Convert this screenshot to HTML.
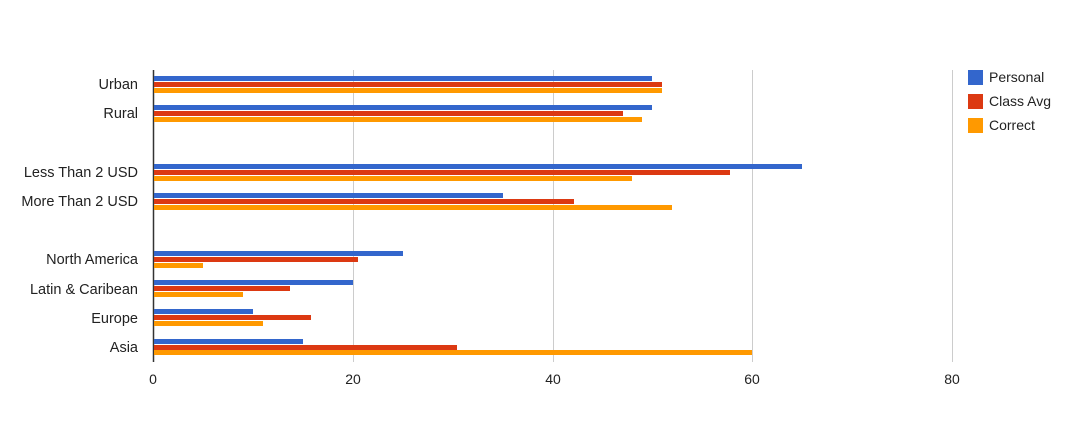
<!DOCTYPE html>
<html><head><meta charset="utf-8"><style>body{margin:0;background:#fff}svg{display:block}text{font-family:"Liberation Sans",Arial,sans-serif;font-size:14px;fill:#222}.c text{font-size:14.5px}</style></head>
<body>
<svg width="1081" height="435" xmlns="http://www.w3.org/2000/svg">
<g stroke="#ccc" stroke-width="1">
<line x1="353.5" y1="70" x2="353.5" y2="362"/>
<line x1="553.5" y1="70" x2="553.5" y2="362"/>
<line x1="752.5" y1="70" x2="752.5" y2="362"/>
<line x1="952.5" y1="70" x2="952.5" y2="362"/>
</g>
<line x1="153.5" y1="70" x2="153.5" y2="362" stroke="#333" stroke-width="1.5"/>
<g text-anchor="end" class="c">
<text x="138" y="89">Urban</text>
<text x="138" y="118">Rural</text>
<text x="138" y="177">Less Than 2 USD</text>
<text x="138" y="206">More Than 2 USD</text>
<text x="138" y="264">North America</text>
<text x="138" y="294">Latin &amp; Caribean</text>
<text x="138" y="323">Europe</text>
<text x="138" y="352">Asia</text>
</g>
<g text-anchor="middle">
<text x="153" y="384">0</text>
<text x="353" y="384">20</text>
<text x="553" y="384">40</text>
<text x="752" y="384">60</text>
<text x="952" y="384">80</text>
</g>
<rect x="968" y="70" width="15" height="15" fill="#3366cc"/>
<rect x="968" y="94" width="15" height="15" fill="#dc3912"/>
<rect x="968" y="118" width="15" height="15" fill="#ff9900"/>
<text x="989" y="82">Personal</text>
<text x="989" y="106">Class Avg</text>
<text x="989" y="130">Correct</text>
<g>
<rect x="154" y="76" width="498" height="5" fill="#3366cc"/><rect x="154" y="82" width="508" height="5" fill="#dc3912"/><rect x="154" y="88" width="508" height="5" fill="#ff9900"/>
<rect x="154" y="105" width="498" height="5" fill="#3366cc"/><rect x="154" y="111" width="469" height="5" fill="#dc3912"/><rect x="154" y="117" width="488" height="5" fill="#ff9900"/>
<rect x="154" y="164" width="648" height="5" fill="#3366cc"/><rect x="154" y="170" width="576" height="5" fill="#dc3912"/><rect x="154" y="176" width="478" height="5" fill="#ff9900"/>
<rect x="154" y="193" width="349" height="5" fill="#3366cc"/><rect x="154" y="199" width="420" height="5" fill="#dc3912"/><rect x="154" y="205" width="518" height="5" fill="#ff9900"/>
<rect x="154" y="251" width="249" height="5" fill="#3366cc"/><rect x="154" y="257" width="204" height="5" fill="#dc3912"/><rect x="154" y="263" width="49" height="5" fill="#ff9900"/>
<rect x="154" y="280" width="199" height="5" fill="#3366cc"/><rect x="154" y="286" width="136" height="5" fill="#dc3912"/><rect x="154" y="292" width="89" height="5" fill="#ff9900"/>
<rect x="154" y="309" width="99" height="5" fill="#3366cc"/><rect x="154" y="315" width="157" height="5" fill="#dc3912"/><rect x="154" y="321" width="109" height="5" fill="#ff9900"/>
<rect x="154" y="339" width="149" height="5" fill="#3366cc"/><rect x="154" y="345" width="303" height="5" fill="#dc3912"/><rect x="154" y="350" width="598" height="5" fill="#ff9900"/>
</g>
</svg>
</body></html>
